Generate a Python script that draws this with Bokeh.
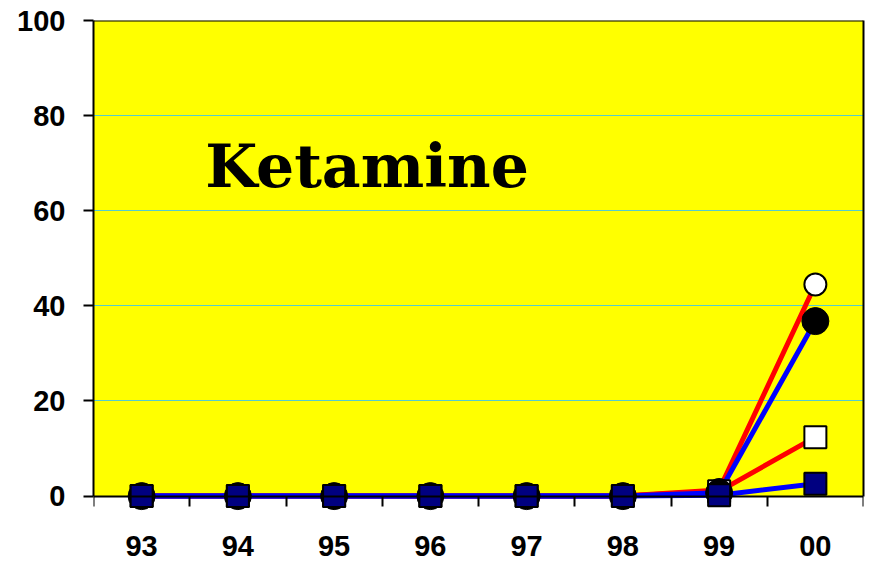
from bokeh.plotting import figure
from bokeh.models import FixedTicker, Range1d, Label, BoxAnnotation, Span, LinearAxis
from bokeh.embed import file_html
from bokeh.resources import INLINE

years = ["93", "94", "95", "96", "97", "98", "99", "00"]
red_circle = [0, 0, 0, 0, 0, 0, 1.3, 44.5]
blue_circle = [0, 0, 0, 0, 0, 0, 0.7, 36.8]
red_square = [0, 0, 0, 0, 0, 0, 1.0, 12.4]
blue_square = [0, 0, 0, 0, 0, 0, 0.2, 2.6]
y_ticks = [0, 20, 40, 60, 80, 100]
title_text = "Ketamine"

xs = [i + 0.5 for i in range(len(years))]

p = figure(width=870, height=566, output_backend="svg", toolbar_location=None,
           x_range=Range1d(0, len(years)), y_range=Range1d(-14.8, 100),
           min_border_left=93, min_border_right=7, min_border_top=20, min_border_bottom=0)
p.background_fill_color = "white"
p.border_fill_color = "white"
p.outline_line_color = None

p.add_layout(BoxAnnotation(bottom=0, top=100, fill_color="#ffff00", fill_alpha=1,
                           line_color=None, level="image"))
p.add_layout(Span(location=100, dimension="width", line_color="black", line_width=2))

p.xgrid.visible = False
p.ygrid.ticker = FixedTicker(ticks=y_ticks)
p.ygrid.grid_line_color = "#55cccc"
p.ygrid.grid_line_width = 1
p.ygrid.level = "underlay"

p.xaxis.fixed_location = 0
p.xaxis.ticker = FixedTicker(ticks=xs, minor_ticks=list(range(len(years) + 1)))
p.xaxis.major_label_overrides = {x: y for x, y in zip(xs, years)}
p.xaxis.major_tick_line_color = None
p.xaxis.minor_tick_line_color = "black"
p.xaxis.minor_tick_line_width = 2
p.xaxis.minor_tick_out = 10
p.xaxis.minor_tick_in = 0
p.xaxis.major_label_standoff = 30

p.yaxis.ticker = FixedTicker(ticks=y_ticks)
p.yaxis.bounds = (0, 100)
p.yaxis.minor_tick_line_color = None
p.yaxis.major_tick_line_width = 2
p.yaxis.major_tick_out = 10
p.yaxis.major_tick_in = 0
p.yaxis.major_label_standoff = 18

for ax in (p.xaxis, p.yaxis):
    ax.axis_line_color = "black"
    ax.axis_line_width = 2
    ax.major_label_text_font = "Liberation Sans"
    ax.major_label_text_font_style = "bold"
    ax.major_label_text_font_size = "29px"
    ax.major_label_text_color = "black"

right_axis = LinearAxis(bounds=(0, 100), ticker=FixedTicker(ticks=[]),
                        axis_line_color="black", axis_line_width=2,
                        major_tick_line_color=None, minor_tick_line_color=None)
p.add_layout(right_axis, "right")

lw = 5
p.line(xs, red_circle, line_color="#ff0000", line_width=lw)
p.line(xs, red_square, line_color="#ff0000", line_width=lw)
p.line(xs, blue_circle, line_color="#0000ff", line_width=lw)
p.line(xs, blue_square, line_color="#0000ff", line_width=lw)

p.scatter(xs, red_circle, marker="circle", size=22, fill_color="white", line_color="black", line_width=2)
p.scatter(xs, red_square, marker="square", size=22, fill_color="white", line_color="black", line_width=2)
p.scatter(xs, blue_circle, marker="circle", size=27, fill_color="black", line_color="black", line_width=1)
p.scatter(xs, blue_square, marker="square", size=22, fill_color="#000080", line_color="black", line_width=2)

p.add_layout(Label(x=1.16, y=69.5, text=title_text, text_font="DejaVu Serif",
                   text_font_style="bold", text_font_size="60px", text_color="black",
                   text_baseline="alphabetic"))

open("out.html", "w").write(file_html(p, INLINE))
